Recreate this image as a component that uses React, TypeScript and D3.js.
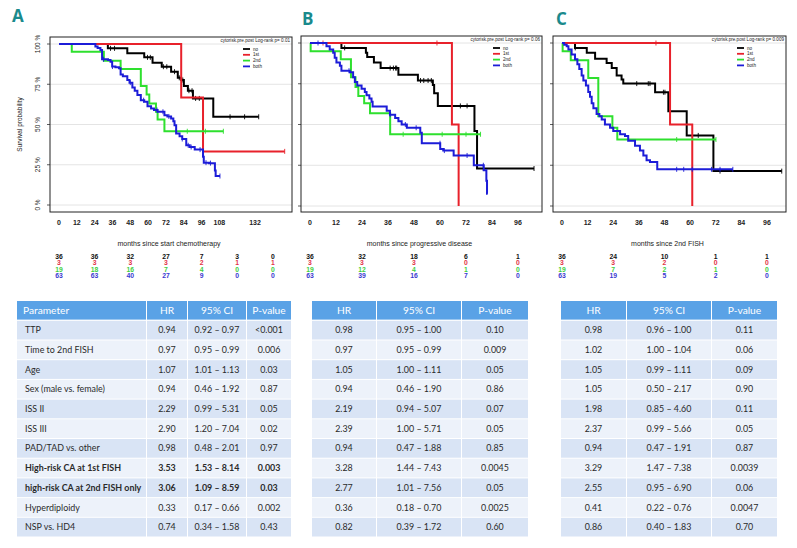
import React from 'react';
import * as d3 from 'd3';

type Step = [number, number];

// ---- Panel A: months since start chemotherapy ----
const aNoSteps: Step[] = [[32.9, 0.973], [46, 0.942], [57.4, 0.917], [63, 0.884], [69.2, 0.859], [75.5, 0.828], [80, 0.79], [82.3, 0.776], [84.1, 0.739], [86.8, 0.71], [90.2, 0.662], [103.9, 0.548]];
const aNoCensor = [34.7, 37.4, 59.6, 61.5, 70.3, 72.6, 77.8, 81, 83.4, 87.5, 89.6, 92, 94.5, 115.2, 125, 134.5];
const aRedSteps: Step[] = [[82.3, 0.667], [97, 0.333]];
const aRedCensor = [152];
const aGreenSteps: Step[] = [[8.6, 0.952], [30.2, 0.896], [41.5, 0.844], [55.1, 0.739], [59, 0.687], [60.8, 0.631], [65.3, 0.579], [66.4, 0.531], [71, 0.458]];
const aGreenCensor = [78.9, 86.4, 98.6, 110.7];
const aBlueSteps: Step[] = [[24.5, 0.985], [26, 0.975], [27.9, 0.963], [29, 0.905], [33, 0.9], [34.7, 0.89], [35.8, 0.86], [38, 0.855], [40.4, 0.849], [41.5, 0.81], [43, 0.8], [46, 0.776], [47.5, 0.76], [49.4, 0.73], [51, 0.71], [52.8, 0.683], [55.1, 0.651], [57.4, 0.641], [59.6, 0.614], [62, 0.6], [64, 0.59], [66.4, 0.579], [71, 0.558], [73, 0.55], [75.5, 0.537], [77, 0.52], [77.8, 0.496], [78.9, 0.444], [81.2, 0.427], [83, 0.41], [85.7, 0.371], [88, 0.36], [91.4, 0.344], [97, 0.3], [97.5, 0.263], [101, 0.26], [105, 0.215], [105.5, 0.18]];
const aBlueCensor = [30, 36, 48, 57, 66, 70, 74, 83, 87, 89, 95, 99, 102, 108.4];
const aEnds = [134.5, 152, 110.7, 108.4];
const aTicks = [0, 12, 24, 36, 48, 60, 72, 84, 96, 108, 132];
const aRiskTimes = [0, 24, 48, 72, 96, 120, 144];
const aRisk = [
  [36, 36, 32, 27, 7, 3, 0],
  [3, 3, 3, 3, 2, 1, 1],
  [19, 18, 16, 7, 4, 0, 0],
  [63, 63, 40, 27, 9, 0, 0],
];

// ---- Panel B: months since progressive disease ----
const bNoSteps: Step[] = [[14.5, 0.97], [25.8, 0.94], [26.4, 0.914], [29.5, 0.88], [32.6, 0.846], [40.8, 0.805], [49.8, 0.77], [56.7, 0.743], [57.3, 0.692], [59, 0.614], [75.9, 0.46], [77.1, 0.23]];
const bNoCensor = [16, 37, 38.5, 39.5, 40, 51, 52.5, 54.5, 56, 69.4, 72.5, 80, 103.4];
const bRedSteps: Step[] = [[65.5, 0.5], [68.6, 0]];
const bRedCensor = [6, 58.6];
const bGreenSteps: Step[] = [[0.3, 0.95], [14.2, 0.9], [18.9, 0.79], [21, 0.73], [22.3, 0.675], [25, 0.63], [27.7, 0.569], [37, 0.44]];
const bGreenCensor = [43, 61, 72, 78.7];
const bBlueSteps: Step[] = [[7.6, 0.98], [9.1, 0.96], [10.7, 0.94], [11.4, 0.91], [12.2, 0.88], [13.8, 0.86], [14.5, 0.83], [18.4, 0.82], [19.9, 0.79], [20.7, 0.76], [21.8, 0.74], [23.8, 0.72], [25.3, 0.7], [26.1, 0.68], [27.4, 0.66], [28.4, 0.64], [28.9, 0.61], [35.4, 0.585], [36.9, 0.56], [39.3, 0.54], [40.8, 0.52], [42.3, 0.5], [44.7, 0.48], [50.9, 0.45], [51.6, 0.385], [60.1, 0.35], [61.5, 0.34], [66.3, 0.31], [75.6, 0.25], [80.2, 0.22], [81.4, 0.155], [81.7, 0.075]];
const bBlueCensor = [3.7, 18, 37, 44, 49, 60, 62, 72.5, 80];
const bEnds = [103.4, 68.6, 78.7, 82];
const bTicks = [0, 12, 24, 36, 48, 60, 72, 84, 96];
const bRiskTimes = [0, 24, 48, 72, 96];
const bRisk = [
  [36, 32, 18, 6, 1],
  [3, 3, 3, 0, 0],
  [19, 12, 4, 1, 0],
  [63, 39, 16, 7, 0],
];

// ---- Panel C: months since 2nd FISH ----
const cNoSteps: Step[] = [[6.1, 0.97], [11.6, 0.94], [15.5, 0.904], [20.9, 0.878], [23.3, 0.847], [25.6, 0.8], [27.9, 0.776], [28.7, 0.751], [43.6, 0.698], [49.8, 0.582], [58.4, 0.433], [70.9, 0.214]];
const cNoCensor = [6.2, 35, 40.4, 41.2, 47.5, 48.2, 63.8, 74, 102.9];
const cRedSteps: Step[] = [[50.6, 0.5], [61, 0]];
const cRedCensor = [44];
const cGreenSteps: Step[] = [[0.3, 0.949], [4.1, 0.894], [12.3, 0.786], [17, 0.551], [23.6, 0.48], [25.9, 0.408]];
const cGreenCensor = [53.7, 72.1];
const cBlueSteps: Step[] = [[1, 0.99], [2.2, 0.98], [3, 0.96], [4.5, 0.93], [6.1, 0.9], [7.2, 0.87], [8.1, 0.84], [9.2, 0.8], [10, 0.77], [11.2, 0.74], [12.3, 0.7], [13.1, 0.67], [13.9, 0.63], [14.7, 0.6], [16.2, 0.565], [17.5, 0.55], [18.6, 0.53], [20.1, 0.5], [22.5, 0.48], [24, 0.46], [27.2, 0.44], [29.5, 0.43], [31, 0.4], [34.2, 0.37], [36.5, 0.34], [38.1, 0.31], [39.6, 0.28], [41.2, 0.27], [44.6, 0.225]];
const cBlueCensor = [53.7, 57, 61, 70, 74, 80];
const cEnds = [102.9, 61, 72.1, 80];
const cTicks = [0, 12, 24, 36, 48, 60, 72, 84, 96];
const cRiskTimes = [0, 24, 48, 72, 96];
const cRisk = [
  [36, 24, 10, 1, 1],
  [3, 3, 2, 0, 0],
  [19, 7, 2, 1, 0],
  [63, 19, 5, 2, 0],
];

const groups = ['no', '1st', '2nd', 'both'];
const yTicks = [0, 0.25, 0.5, 0.75, 1];

// ---- Cox tables ----
const paramNames = ['TTP', 'Time to 2nd FISH', 'Age', 'Sex (male vs. female)', 'ISS II', 'ISS III', 'PAD/TAD vs. other', 'High-risk CA at 1st FISH', 'high-risk CA at 2nd FISH only', 'Hyperdiploidy', 'NSP vs. HD4'];
const hrA = ['0.94', '0.97', '1.07', '0.94', '2.29', '2.90', '0.98', '3.53', '3.06', '0.33', '0.74'];
const ciA = ['0.92 – 0.97', '0.95 – 0.99', '1.01 – 1.13', '0.46 – 1.92', '0.99 – 5.31', '1.20 – 7.04', '0.48 – 2.01', '1.53 – 8.14', '1.09 – 8.59', '0.17 – 0.66', '0.34 – 1.58'];
const pA = ['<0.001', '0.006', '0.03', '0.87', '0.05', '0.02', '0.97', '0.003', '0.03', '0.002', '0.43'];
const hrB = ['0.98', '0.97', '1.05', '0.94', '2.19', '2.39', '0.94', '3.28', '2.77', '0.36', '0.82'];
const ciB = ['0.95 – 1.00', '0.95 – 0.99', '1.00 – 1.11', '0.46 – 1.90', '0.94 – 5.07', '1.00 – 5.71', '0.47 – 1.88', '1.44 – 7.43', '1.01 – 7.56', '0.18 – 0.70', '0.39 – 1.72'];
const pB = ['0.10', '0.009', '0.05', '0.86', '0.07', '0.05', '0.85', '0.0045', '0.05', '0.0025', '0.60'];
const hrC = ['0.98', '1.02', '1.05', '1.05', '1.98', '2.37', '0.94', '3.29', '2.55', '0.41', '0.86'];
const ciC = ['0.96 – 1.00', '1.00 – 1.04', '0.99 – 1.11', '0.50 – 2.17', '0.85 – 4.60', '0.99 – 5.66', '0.47 – 1.91', '1.47 – 7.38', '0.95 – 6.90', '0.22 – 0.76', '0.40 – 1.83'];
const pC = ['0.11', '0.06', '0.09', '0.90', '0.11', '0.05', '0.87', '0.0039', '0.06', '0.0047', '0.70'];

const lineColors = ['#000000', '#e8212b', '#2ee02e', '#1c1cd8'];
const riskColors = ['#111111', '#e23347', '#3fcf3f', '#3a3ad0'];
const plotFont = '"Liberation Sans", Arial, sans-serif';
const tableFont = 'Lato, "Noto Sans", sans-serif';

interface Curve { steps: Step[]; censor: number[]; end: number }

interface PanelProps {
  letter: string;
  letterX: number;
  letterY: number;
  box: { l: number; r: number; t: number; b: number };
  xDomain: [number, number];
  xRange: [number, number];
  yRange: [number, number];
  ticks: number[];
  curves: Curve[];
  title: string;
  xTitle: string;
  riskTimes: number[];
  risk: number[][];
  showY: boolean;
}

const survAt = (steps: Step[], t: number) => {
  let s = 1;
  for (const [tt, v] of steps) if (tt <= t) s = v;
  return s;
};

const KMPanel: React.FC<PanelProps> = (p) => {
  const x = d3.scaleLinear().domain(p.xDomain).range(p.xRange);
  const y = d3.scaleLinear().domain([0, 1]).range(p.yRange);
  const line = d3.line<Step>().x(d => x(d[0])).y(d => y(d[1])).curve(d3.curveStepAfter);
  const { l, r, t, b } = p.box;
  const riskY = [259, 265.3, 271.6, 277.9];

  return (
    <g>
      <text x={p.letterX} y={p.letterY} fontFamily='"Open Sans", sans-serif' fontWeight="bold" fontSize={17} fill="#1a8a8c">{p.letter}</text>
      {yTicks.map(v => (
        <line key={v} x1={l} x2={r} y1={y(v)} y2={y(v)} stroke="#e4e4e4" strokeWidth={1} />
      ))}
      {yTicks.map(v => (
        <line key={'t' + v} x1={l - 3} x2={l} y1={y(v)} y2={y(v)} stroke="#333" strokeWidth={0.8} />
      ))}
      {p.showY && yTicks.map(v => (
        <text key={'l' + v} transform={`translate(${l - 10},${y(v)}) rotate(-90)`} textAnchor="middle" fontFamily={plotFont} fontSize={6.5} fill="#222">{`${v * 100} %`}</text>
      ))}
      {p.showY && (
        <text transform={`translate(22,${(y(0) + y(1)) / 2}) rotate(-90)`} textAnchor="middle" fontFamily={plotFont} fontSize={6.5} fill="#222">Survival probability</text>
      )}
      <rect x={l} y={t} width={r - l} height={b - t} fill="none" stroke="#222" strokeWidth={1} />
      {p.curves.map((c, i) => {
        const last = c.steps[c.steps.length - 1][1];
        const pts: Step[] = [[0, 1], ...c.steps, [c.end, last]];
        return (
          <g key={i}>
            <path d={line(pts) || ''} fill="none" stroke={lineColors[i]} strokeWidth={2} />
            {c.censor.map((ct, j) => (
              <line key={j} x1={x(ct)} x2={x(ct)} y1={y(survAt(c.steps, ct)) - 2.5} y2={y(survAt(c.steps, ct)) + 2.5} stroke={lineColors[i]} strokeWidth={0.9} />
            ))}
          </g>
        );
      })}
      <text x={r - 2} y={t + 4.5} textAnchor="end" fontFamily={plotFont} fontSize={4.6} fill="#222">{p.title}</text>
      {groups.map((g, i) => (
        <g key={g}>
          <line x1={r - 49} x2={r - 42} y1={t + 12 + i * 5.8} y2={t + 12 + i * 5.8} stroke={lineColors[i]} strokeWidth={1.8} />
          <text x={r - 39} y={t + 13.6 + i * 5.8} fontFamily={plotFont} fontSize={4.6} fill="#222">{g}</text>
        </g>
      ))}
      {p.ticks.map(v => (
        <text key={v} x={x(v)} y={224.5} textAnchor="middle" fontFamily={plotFont} fontWeight="bold" fontSize={7} fill="#222">{v}</text>
      ))}
      <text x={(l + r) / 2 - 2} y={245.5} textAnchor="middle" fontFamily={plotFont} fontSize={7} fill="#222">{p.xTitle}</text>
      {p.risk.map((row, i) => row.map((n, j) => (
        <text key={i + '-' + j} x={x(p.riskTimes[j])} y={riskY[i]} textAnchor="middle" fontFamily={plotFont} fontWeight="bold" fontSize={6.8} fill={riskColors[i]}>{n}</text>
      )))}
    </g>
  );
};

interface TableProps {
  cols: { x0: number; x1: number }[];
  headers: string[];
  columns: string[][];
  leftAlignFirst: boolean;
  boldRows: number[];
}

const rowTop = d3.scaleLinear().domain([0, 11]).range([320.8, 537.5]);

const CoxTable: React.FC<TableProps> = ({ cols, headers, columns, leftAlignFirst, boldRows }) => (
  <g>
    {cols.map((c, k) => (
      <g key={'h' + k}>
        <rect x={c.x0} y={301} width={c.x1 - c.x0} height={18.6} fill="#5aa2e6" />
        <text x={leftAlignFirst && k === 0 ? c.x0 + 6 : (c.x0 + c.x1) / 2} y={313.6} textAnchor={leftAlignFirst && k === 0 ? 'start' : 'middle'} fontFamily={tableFont} fontSize={10.2} fill="#ffffff">{headers[k]}</text>
      </g>
    ))}
    {paramNames.map((_, i) => (
      <g key={i}>
        {cols.map((c, k) => (
          <g key={k}>
            <rect x={c.x0} y={rowTop(i)} width={c.x1 - c.x0} height={rowTop(i + 1) - rowTop(i) - 1} fill={i % 2 === 0 ? '#d9e4f5' : '#edf2fa'} />
            <text
              x={leftAlignFirst && k === 0 ? c.x0 + 8 : (c.x0 + c.x1) / 2}
              y={rowTop(i) + 12.4}
              textAnchor={leftAlignFirst && k === 0 ? 'start' : 'middle'}
              fontFamily={tableFont}
              fontWeight={boldRows.includes(i) ? 'bold' : 'normal'}
              fontSize={8.9}
              fill="#2a2a2a"
            >{columns[k][i]}</text>
          </g>
        ))}
      </g>
    ))}
  </g>
);

export default function App() {
  const mk = (steps: Step[][], censors: number[][], ends: number[]): Curve[] =>
    steps.map((s, i) => ({ steps: s, censor: censors[i], end: ends[i] }));

  return (
    <svg width={797} height={548} style={{ position: 'absolute', left: 0, top: 0, background: '#fff' }}>
      <rect width={797} height={548} fill="#fff" />
      <KMPanel
        letter="A" letterX={12} letterY={22}
        box={{ l: 50, r: 292, t: 37, b: 212 }}
        xDomain={[0, 132]} xRange={[59, 255]} yRange={[205, 44]}
        ticks={aTicks}
        curves={mk([aNoSteps, aRedSteps, aGreenSteps, aBlueSteps], [aNoCensor, aRedCensor, aGreenCensor, aBlueCensor], aEnds)}
        title="cytorisk.pre.post Log-rank p= 0.01"
        xTitle="months since start chemotherapy"
        riskTimes={aRiskTimes} risk={aRisk} showY={true}
      />
      <KMPanel
        letter="B" letterX={302} letterY={25}
        box={{ l: 301, r: 542, t: 36, b: 212 }}
        xDomain={[0, 96]} xRange={[310, 518]} yRange={[206, 43]}
        ticks={bTicks}
        curves={mk([bNoSteps, bRedSteps, bGreenSteps, bBlueSteps], [bNoCensor, bRedCensor, bGreenCensor, bBlueCensor], bEnds)}
        title="cytorisk.pre.post Log-rank p= 0.06"
        xTitle="months since progressive disease"
        riskTimes={bRiskTimes} risk={bRisk} showY={false}
      />
      <KMPanel
        letter="C" letterX={556} letterY={25}
        box={{ l: 553, r: 786, t: 36, b: 212 }}
        xDomain={[0, 96]} xRange={[562, 767]} yRange={[206, 43]}
        ticks={cTicks}
        curves={mk([cNoSteps, cRedSteps, cGreenSteps, cBlueSteps], [cNoCensor, cRedCensor, cGreenCensor, cBlueCensor], cEnds)}
        title="cytorisk.pre.post Log-rank p= 0.009"
        xTitle="months since 2nd FISH"
        riskTimes={cRiskTimes} risk={cRisk} showY={false}
      />
      <CoxTable
        cols={[{ x0: 17, x1: 146 }, { x0: 147, x1: 187 }, { x0: 188, x1: 246 }, { x0: 247, x1: 291 }]}
        headers={['Parameter', 'HR', '95% CI', 'P-value']}
        columns={[paramNames, hrA, ciA, pA]}
        leftAlignFirst={true}
        boldRows={[7, 8]}
      />
      <CoxTable
        cols={[{ x0: 312, x1: 376 }, { x0: 377, x1: 461 }, { x0: 462, x1: 528 }]}
        headers={['HR', '95% CI', 'P-value']}
        columns={[hrB, ciB, pB]}
        leftAlignFirst={false}
        boldRows={[]}
      />
      <CoxTable
        cols={[{ x0: 561, x1: 626 }, { x0: 627, x1: 711 }, { x0: 712, x1: 777 }]}
        headers={['HR', '95% CI', 'P-value']}
        columns={[hrC, ciC, pC]}
        leftAlignFirst={false}
        boldRows={[]}
      />
    </svg>
  );
}
